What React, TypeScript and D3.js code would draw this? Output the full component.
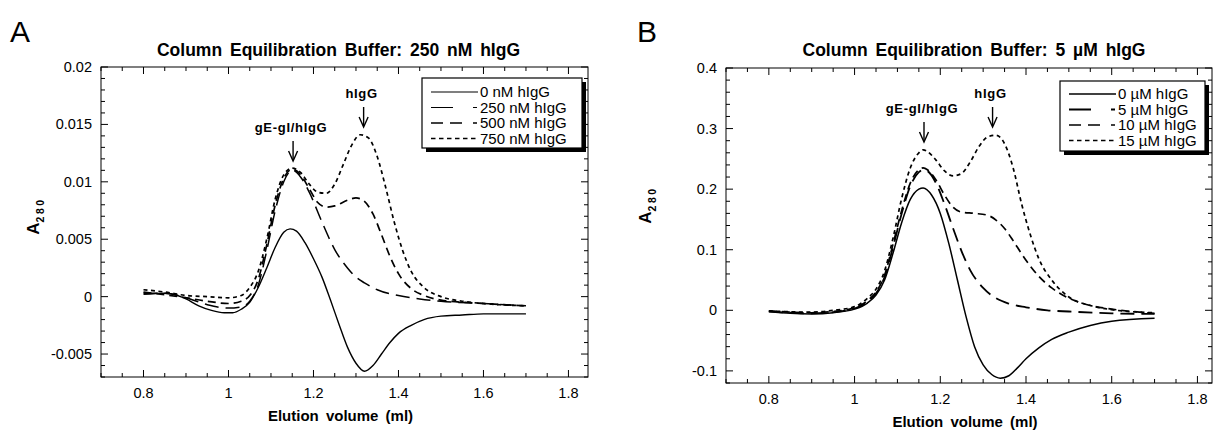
import React from 'react';
import * as d3 from 'd3';

// ---------- Data (Panel A: 250 nM hIgG buffer) ----------
const a0nM: [number, number][] = [
  [0.8, 0.0002], [0.85, 0.0003], [0.88, 0.0001], [0.9, -0.0002], [0.93, -0.0008], [0.96, -0.0012],
  [0.99, -0.0014], [1.01, -0.0014], [1.03, -0.0011], [1.05, -0.0005], [1.07, 0.0008], [1.09, 0.0025],
  [1.11, 0.0043], [1.13, 0.0056], [1.145, 0.0059], [1.16, 0.0057], [1.18, 0.0047], [1.2, 0.0033],
  [1.22, 0.0017], [1.24, -0.0003], [1.26, -0.0024], [1.28, -0.0044], [1.3, -0.0058], [1.32, -0.0065],
  [1.34, -0.006], [1.36, -0.005], [1.38, -0.004], [1.4, -0.0032], [1.43, -0.0025], [1.46, -0.002],
  [1.5, -0.0017], [1.55, -0.0016], [1.6, -0.0015], [1.7, -0.0015],
];
const a250nM: [number, number][] = [
  [0.8, 0.0003], [0.85, 0.0003], [0.9, -0.0001], [0.95, -0.0007], [1.0, -0.001], [1.03, -0.0009],
  [1.05, -0.0004], [1.07, 0.001], [1.09, 0.004], [1.11, 0.0075], [1.13, 0.01], [1.15, 0.011],
  [1.17, 0.0104], [1.19, 0.0091], [1.22, 0.0065], [1.25, 0.0041], [1.28, 0.0025], [1.3, 0.0017],
  [1.32, 0.0012], [1.35, 0.0006], [1.4, 0.0001], [1.45, -0.0002], [1.5, -0.0004], [1.6, -0.0006],
  [1.7, -0.0008],
];
const a500nM: [number, number][] = [
  [0.8, 0.0004], [0.9, -0.0001], [0.95, -0.0004], [1.0, -0.0006], [1.03, -0.0004], [1.05, 0.0001],
  [1.07, 0.0015], [1.09, 0.0045], [1.11, 0.008], [1.13, 0.0103], [1.15, 0.0111], [1.17, 0.0106],
  [1.19, 0.0094], [1.21, 0.0082], [1.23, 0.0078], [1.25, 0.0079], [1.28, 0.0084], [1.3, 0.0086],
  [1.32, 0.0083], [1.34, 0.0072], [1.36, 0.0054], [1.38, 0.0035], [1.4, 0.002], [1.43, 0.0007],
  [1.46, 0.0001], [1.5, -0.0003], [1.6, -0.0006], [1.7, -0.0008],
];
const a750nM: [number, number][] = [
  [0.8, 0.0006], [0.85, 0.0004], [0.9, 0.0001], [0.95, 0.0], [1.0, -0.0001], [1.03, 0.0001],
  [1.05, 0.0008], [1.07, 0.0022], [1.09, 0.005], [1.11, 0.0085], [1.13, 0.0106], [1.15, 0.0112],
  [1.17, 0.0108], [1.19, 0.0098], [1.21, 0.0091], [1.23, 0.009], [1.25, 0.0098], [1.27, 0.0115],
  [1.29, 0.0132], [1.31, 0.0141], [1.33, 0.0138], [1.35, 0.0122], [1.37, 0.0095], [1.39, 0.0065],
  [1.41, 0.004], [1.43, 0.0022], [1.46, 0.0008], [1.5, 0.0], [1.55, -0.0004], [1.6, -0.0006],
  [1.7, -0.0008],
];
const legendA = ['0 nM hIgG', '250 nM hIgG', '500 nM hIgG', '750 nM hIgG'];
const yTicksA = [-0.005, 0, 0.005, 0.01, 0.015, 0.02];
const yTickLabelsA = ['-0.005', '0', '0.005', '0.01', '0.015', '0.02'];

// ---------- Data (Panel B: 5 µM hIgG buffer) ----------
const b0uM: [number, number][] = [
  [0.8, -0.002], [0.85, -0.005], [0.9, -0.006], [0.95, -0.004], [1.0, 0.002], [1.03, 0.012],
  [1.05, 0.025], [1.07, 0.05], [1.09, 0.095], [1.11, 0.145], [1.13, 0.183], [1.15, 0.2],
  [1.16, 0.202], [1.18, 0.19], [1.2, 0.16], [1.22, 0.11], [1.24, 0.05], [1.26, -0.01],
  [1.28, -0.06], [1.3, -0.09], [1.32, -0.106], [1.34, -0.112], [1.36, -0.108], [1.38, -0.095],
  [1.4, -0.08], [1.43, -0.062], [1.46, -0.048], [1.5, -0.036], [1.55, -0.025], [1.6, -0.018],
  [1.7, -0.013],
];
const b5uM: [number, number][] = [
  [0.8, -0.002], [0.9, -0.005], [0.95, -0.003], [1.0, 0.003], [1.03, 0.014], [1.05, 0.028],
  [1.07, 0.055], [1.09, 0.105], [1.11, 0.16], [1.13, 0.205], [1.15, 0.228], [1.16, 0.232],
  [1.17, 0.23], [1.19, 0.21], [1.21, 0.175], [1.23, 0.135], [1.25, 0.097], [1.27, 0.066],
  [1.3, 0.037], [1.33, 0.02], [1.36, 0.011], [1.4, 0.005], [1.45, 0.0], [1.5, -0.002],
  [1.6, -0.005], [1.7, -0.006],
];
const b10uM: [number, number][] = [
  [0.8, -0.001], [0.9, -0.004], [0.95, -0.002], [1.0, 0.004], [1.03, 0.016], [1.05, 0.03],
  [1.07, 0.058], [1.09, 0.11], [1.11, 0.165], [1.13, 0.21], [1.15, 0.232], [1.16, 0.235],
  [1.17, 0.232], [1.19, 0.215], [1.21, 0.19], [1.23, 0.17], [1.25, 0.162], [1.28, 0.16],
  [1.31, 0.157], [1.33, 0.149], [1.35, 0.135], [1.37, 0.115], [1.39, 0.093], [1.41, 0.073],
  [1.43, 0.056], [1.46, 0.037], [1.5, 0.02], [1.55, 0.008], [1.6, 0.002], [1.7, -0.005],
];
const b15uM: [number, number][] = [
  [0.8, -0.001], [0.9, -0.003], [0.95, 0.0], [1.0, 0.006], [1.03, 0.02], [1.05, 0.035],
  [1.07, 0.065], [1.09, 0.12], [1.11, 0.185], [1.13, 0.235], [1.15, 0.26], [1.16, 0.265],
  [1.17, 0.262], [1.19, 0.248], [1.21, 0.23], [1.23, 0.222], [1.25, 0.226], [1.27, 0.245],
  [1.29, 0.27], [1.31, 0.286], [1.33, 0.289], [1.35, 0.275], [1.37, 0.235], [1.39, 0.175],
  [1.41, 0.125], [1.43, 0.085], [1.46, 0.05], [1.5, 0.022], [1.55, 0.008], [1.6, 0.001],
  [1.7, -0.004],
];
const legendB = ['0 µM hIgG', '5 µM hIgG', '10 µM hIgG', '15 µM hIgG'];
const yTicksB = [-0.1, 0, 0.1, 0.2, 0.3, 0.4];
const yTickLabelsB = ['-0.1', '0', '0.1', '0.2', '0.3', '0.4'];

const xTicks = [0.8, 1, 1.2, 1.4, 1.6, 1.8];
const xTickLabels = ['0.8', '1', '1.2', '1.4', '1.6', '1.8'];
const peakLabels = ['gE-gI/hIgG', 'hIgG'];

const FONT = 'Liberation Sans, Arial, Helvetica, sans-serif';

const dashes = ['', '14,7', '8,5', '4,3.5'];
const legendDashes = ['', '22,20,4,100', '12,7,12,11,4,100', '4.5,3.5'];

type PanelProps = {
  letter: string;
  letterX: number;
  title: string;
  titleDx: number;
  frame: { left: number; right: number; top: number; bottom: number };
  xDomain: [number, number];
  yDomain: [number, number];
  yTicks: number[];
  yTickLabels: string[];
  yMinorStep: number;
  series: [number, number][][];
  widths: number[];
  legendWidths: number[];
  legend: string[];
  legendBox: { x: number; y: number; w: number; h: number; row0: number; rowH: number; sampleW: number };
  peaks: { x: number; tipY: number; len: number }[];
  ylabelX: number;
  ylabelY: number;
};

function Panel(p: PanelProps) {
  const { frame } = p;
  const x = d3.scaleLinear().domain(p.xDomain).range([frame.left, frame.right]);
  const y = d3.scaleLinear().domain(p.yDomain).range([frame.bottom, frame.top]);
  const line = d3
    .line<[number, number]>()
    .x((d) => x(d[0]))
    .y((d) => y(d[1]))
    .curve(d3.curveMonotoneX);

  const xMinor = d3.range(0, 40).map((i) => +(0.7 + i * 0.05).toFixed(3)).filter((v) => v <= p.xDomain[1] + 1e-9);
  const yMinor: number[] = [];
  for (let v = Math.ceil(p.yDomain[0] / p.yMinorStep) * p.yMinorStep; v <= p.yDomain[1] + 1e-9; v += p.yMinorStep) {
    yMinor.push(+v.toFixed(6));
  }
  const isMajorX = (v: number) => xTicks.some((t) => Math.abs(t - v) < 1e-6);
  const isMajorY = (v: number) => p.yTicks.some((t) => Math.abs(t - v) < 1e-9);
  const lb = p.legendBox;
  const cx = (frame.left + frame.right) / 2;

  return (
    <g fontFamily={FONT}>
      <text x={p.letterX} y={42} fontSize={30}>{p.letter}</text>
      <text x={cx + p.titleDx} y={56} fontSize={17.5} fontWeight="bold" textAnchor="middle" wordSpacing={3}>
        {p.title}
      </text>
      {/* ticks */}
      {xMinor.map((v) => {
        const L = isMajorX(v) ? 7 : 4;
        const xx = x(v);
        return (
          <g key={'xt' + v} stroke="#000" strokeWidth={1}>
            <line x1={xx} x2={xx} y1={frame.bottom} y2={frame.bottom - L} />
            <line x1={xx} x2={xx} y1={frame.top} y2={frame.top + L} />
          </g>
        );
      })}
      {yMinor.map((v) => {
        const L = isMajorY(v) ? 7 : 4;
        const yy = y(v);
        return (
          <g key={'yt' + v} stroke="#000" strokeWidth={1}>
            <line x1={frame.left} x2={frame.left + L} y1={yy} y2={yy} />
            <line x1={frame.right} x2={frame.right - L} y1={yy} y2={yy} />
          </g>
        );
      })}
      <rect x={frame.left} y={frame.top} width={frame.right - frame.left} height={frame.bottom - frame.top} fill="none" stroke="#000" strokeWidth={1} />
      {/* tick labels */}
      {xTicks.map((v, i) => (
        <text key={'xl' + v} x={x(v)} y={frame.bottom + 21} fontSize={14.5} textAnchor="middle">
          {xTickLabels[i]}
        </text>
      ))}
      {p.yTicks.map((v, i) => (
        <text key={'yl' + v} x={frame.left - 9} y={y(v) + 5} fontSize={14.5} textAnchor="end">
          {p.yTickLabels[i]}
        </text>
      ))}
      <text x={cx - 4} y={frame.bottom + 44} fontSize={15} fontWeight="bold" textAnchor="middle" wordSpacing={3}>
        Elution volume (ml)
      </text>
      <text transform={`translate(${p.ylabelX},${p.ylabelY}) rotate(-90)`} fontWeight="bold" textAnchor="middle">
        <tspan fontSize={17}>A</tspan>
        <tspan fontSize={10.5} dy={5} letterSpacing={2.5}>280</tspan>
      </text>
      {/* series */}
      {p.series.map((s, i) => (
        <path key={'s' + i} d={line(s) || ''} fill="none" stroke="#000" strokeWidth={p.widths[i]} strokeDasharray={dashes[i] || undefined} />
      ))}
      {/* peak annotations */}
      {p.peaks.map((pk, i) => {
        const xx = x(pk.x);
        return (
          <g key={'pk' + i}>
            <text x={xx - 2} y={pk.tipY - pk.len - 9} fontSize={13} fontWeight="bold" textAnchor="middle" letterSpacing={0.7}>
              {peakLabels[i]}
            </text>
            <line x1={xx} x2={xx} y1={pk.tipY - pk.len} y2={pk.tipY - 1} stroke="#000" strokeWidth={1.4} />
            <path d={`M${xx - 4.5},${pk.tipY - 10} L${xx},${pk.tipY} L${xx + 4.5},${pk.tipY - 10}`} fill="none" stroke="#000" strokeWidth={1.4} />
          </g>
        );
      })}
      {/* legend */}
      <rect x={lb.x + 4} y={lb.y + 4} width={lb.w} height={lb.h} fill="#000" />
      <rect x={lb.x} y={lb.y} width={lb.w} height={lb.h} fill="#fff" stroke="#000" strokeWidth={1.2} />
      {p.legend.map((t, i) => {
        const yy = lb.y + lb.row0 + i * lb.rowH;
        return (
          <g key={'lg' + i}>
            <line x1={lb.x + 9} x2={lb.x + 9 + lb.sampleW} y1={yy} y2={yy} stroke="#000" strokeWidth={p.legendWidths[i]} strokeDasharray={legendDashes[i] || undefined} />
            <text x={lb.x + 11 + lb.sampleW} y={yy + 5} fontSize={15}>{t}</text>
          </g>
        );
      })}
    </g>
  );
}

export default function App() {
  return (
    <svg width={1215} height={431} style={{ display: 'block', position: 'absolute', left: 0, top: 0 }}>
      <rect width={1215} height={431} fill="#fff" />
      <Panel
        letter="A"
        letterX={10}
        title="Column Equilibration Buffer: 250 nM hIgG"
        titleDx={-6}
        frame={{ left: 101, right: 588, top: 67, bottom: 377 }}
        xDomain={[0.7, 1.846]}
        yDomain={[-0.007, 0.02]}
        yTicks={yTicksA}
        yTickLabels={yTickLabelsA}
        yMinorStep={0.001}
        series={[a0nM, a250nM, a500nM, a750nM]}
        widths={[1.4, 1.5, 1.7, 1.7]}
        legendWidths={[1.2, 1.2, 1.7, 1.6]}
        legend={legendA}
        legendBox={{ x: 422, y: 78, w: 160, h: 70, row0: 14, rowH: 15.5, sampleW: 47 }}
        peaks={[
          { x: 1.152, tipY: 161, len: 20 },
          { x: 1.318, tipY: 127, len: 20 },
        ]}
        ylabelX={39}
        ylabelY={216}
      />
      <Panel
        letter="B"
        letterX={637}
        title="Column Equilibration Buffer: 5 µM hIgG"
        titleDx={5}
        frame={{ left: 726, right: 1212, top: 68, bottom: 383 }}
        xDomain={[0.7, 1.834]}
        yDomain={[-0.12, 0.4]}
        yTicks={yTicksB}
        yTickLabels={yTickLabelsB}
        yMinorStep={0.02}
        series={[b0uM, b5uM, b10uM, b15uM]}
        widths={[1.5, 1.8, 1.7, 1.7]}
        legendWidths={[1.3, 2.2, 1.6, 1.6]}
        legend={legendB}
        legendBox={{ x: 1060, y: 81, w: 145, h: 70, row0: 13, rowH: 15.5, sampleW: 47 }}
        peaks={[
          { x: 1.162, tipY: 142, len: 20 },
          { x: 1.322, tipY: 127, len: 20 },
        ]}
        ylabelX={651}
        ylabelY={205}
      />
    </svg>
  );
}
